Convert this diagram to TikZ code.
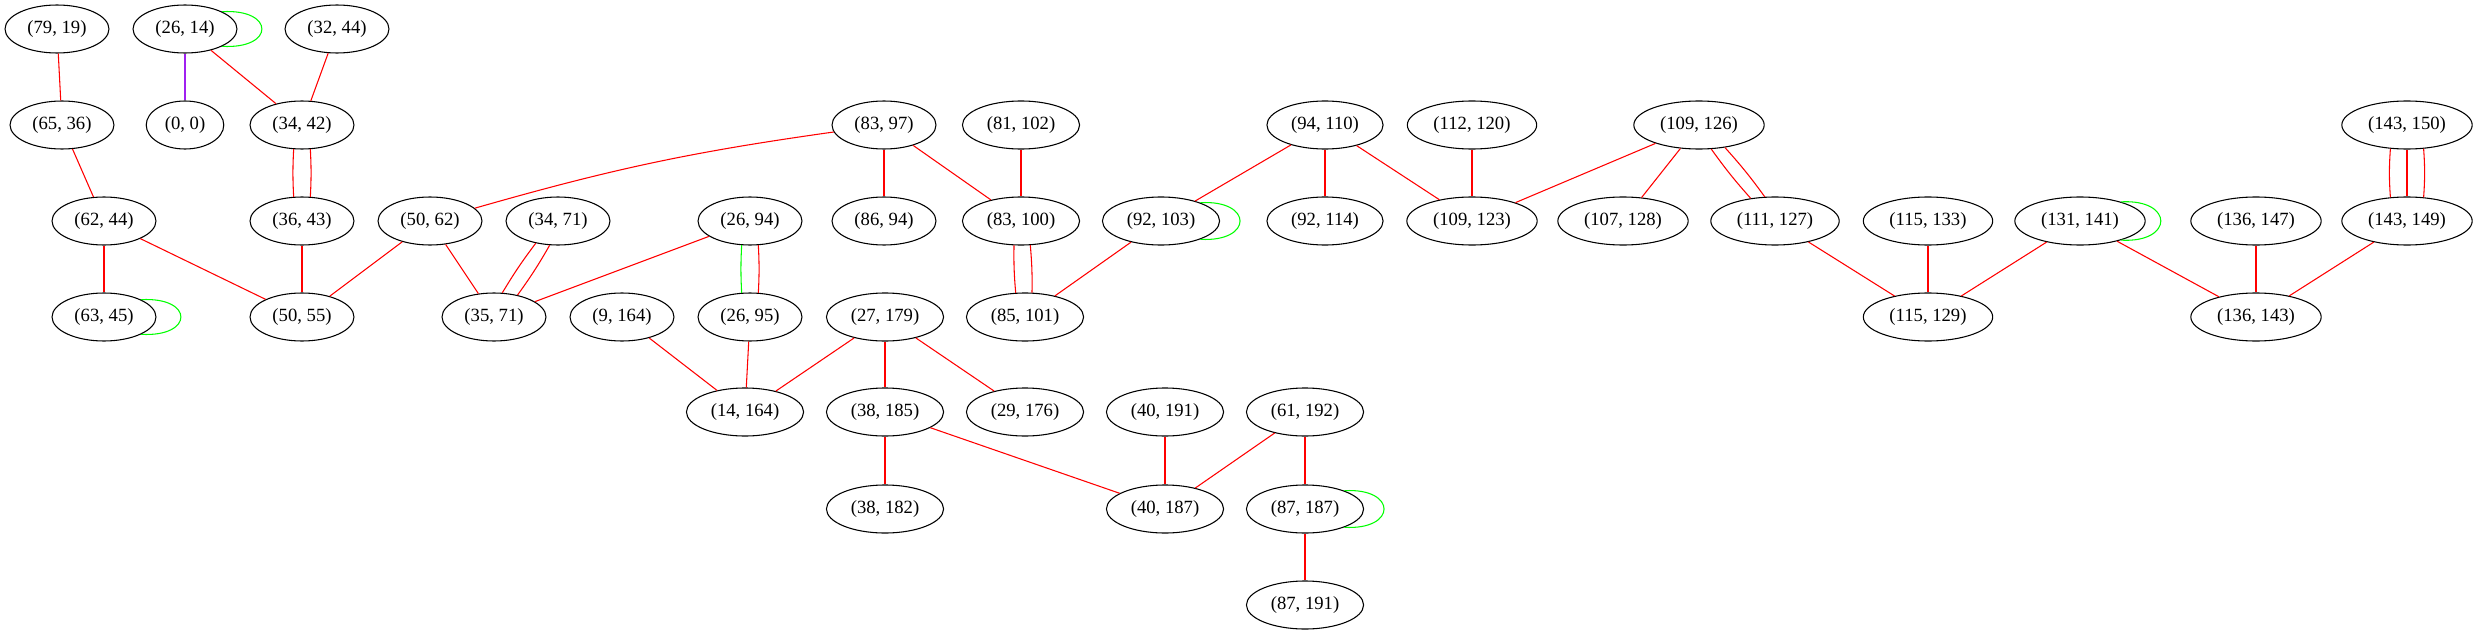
\documentclass[tikz,border=0pt]{standalone}
\usepackage{xcolor}
\usepackage{fontspec}
\setmainfont{Liberation Serif}
\usepackage{tikz}
\usetikzlibrary{shapes.geometric, positioning}
\definecolor{gvpurple}{HTML}{A020F0}

\begin{document}
\begin{tikzpicture}[
        x=0.75pt, y=0.75pt,
        pair/.style={ellipse, draw=black, line width=0.8pt, inner xsep=5.4pt, inner ysep=3pt, minimum height=36pt, font=\fontsize{14}{16}\selectfont},
        redge/.style={draw=red, line width=0.8pt},
        gedge/.style={draw=green, line width=0.8pt},
        pedge/.style={draw=gvpurple, line width=0.8pt}
    ]
    \useasboundingbox (0,0) rectangle (2477,-635);

    % Row 1
    \node[pair] (n7919) at (57,-29) {(79, 19)};
    \node[pair] (n2614) at (185,-29) {(26, 14)};
    \node[pair] (n3244) at (337,-29) {(32, 44)};

    % Row 2
    \node[pair] (n6536) at (62,-125) {(65, 36)};
    \node[pair] (n00) at (185,-125) {(0, 0)};
    \node[pair] (n3442) at (302,-125) {(34, 42)};
    \node[pair] (n8397) at (884,-125) {(83, 97)};
    \node[pair] (n81102) at (1021,-125) {(81, 102)};
    \node[pair] (n94110) at (1325,-125) {(94, 110)};
    \node[pair] (n112120) at (1472,-125) {(112, 120)};
    \node[pair] (n109126) at (1699,-125) {(109, 126)};
    \node[pair] (n143150) at (2407,-125) {(143, 150)};

    % Row 3
    \node[pair] (n6244) at (104,-221) {(62, 44)};
    \node[pair] (n3643) at (302,-221) {(36, 43)};
    \node[pair] (n5062) at (430,-221) {(50, 62)};
    \node[pair] (n3471) at (558,-221) {(34, 71)};
    \node[pair] (n2694) at (750,-221) {(26, 94)};
    \node[pair] (n8694) at (884,-221) {(86, 94)};
    \node[pair] (n83100) at (1021,-221) {(83, 100)};
    \node[pair] (n92103) at (1161,-221) {(92, 103)};
    \node[pair] (n92114) at (1325,-221) {(92, 114)};
    \node[pair] (n109123) at (1472,-221) {(109, 123)};
    \node[pair] (n107128) at (1623,-221) {(107, 128)};
    \node[pair] (n111127) at (1775,-221) {(111, 127)};
    \node[pair] (n115133) at (1928,-221) {(115, 133)};
    \node[pair] (n131141) at (2080,-221) {(131, 141)};
    \node[pair] (n136147) at (2256,-221) {(136, 147)};
    \node[pair] (n143149) at (2407,-221) {(143, 149)};

    % Row 4
    \node[pair] (n6345) at (104,-317) {(63, 45)};
    \node[pair] (n5055) at (302,-317) {(50, 55)};
    \node[pair] (n3571) at (494,-317) {(35, 71)};
    \node[pair] (n9164) at (622,-317) {(9, 164)};
    \node[pair] (n2695) at (750,-317) {(26, 95)};
    \node[pair] (n27179) at (885,-317) {(27, 179)};
    \node[pair] (n85101) at (1025,-317) {(85, 101)};
    \node[pair] (n115129) at (1928,-317) {(115, 129)};
    \node[pair] (n136143) at (2256,-317) {(136, 143)};

    % Row 5
    \node[pair] (n14164) at (745,-412) {(14, 164)};
    \node[pair] (n38185) at (885,-412) {(38, 185)};
    \node[pair] (n29176) at (1025,-412) {(29, 176)};
    \node[pair] (n40191) at (1165,-412) {(40, 191)};
    \node[pair] (n61192) at (1305,-412) {(61, 192)};

    % Rows 6 and 7
    \node[pair] (n38182) at (885,-509) {(38, 182)};
    \node[pair] (n40187) at (1165,-509) {(40, 187)};
    \node[pair] (n87187) at (1305,-509) {(87, 187)};
    \node[pair] (n87191) at (1305,-605) {(87, 191)};

    % Edges
    \draw[redge] (n7919) -- (n6536);
    \draw[pedge] (n2614) -- (n00);
    \draw[redge] (n2614) -- (n3442);
    \draw[redge] (n3244) -- (n3442);
    \draw[redge] (n6536) -- (n6244);
    \draw[redge] (n6244) -- (n6345);
    \draw[redge] (n6244) -- (n5055);
    \draw[redge] (n3643) -- (n5055);
    \draw[redge] (n5062) -- (n5055);
    \draw[redge] (n5062) -- (n3571);
    \draw[redge] (n5062) to[bend left=4] (n8397);
    \draw[redge] (n2694) -- (n3571);
    \draw[redge] (n8397) -- (n8694);
    \draw[redge] (n8397) -- (n83100);
    \draw[redge] (n81102) -- (n83100);
    \draw[redge] (n92103) -- (n85101);
    \draw[redge] (n94110) -- (n92103);
    \draw[redge] (n94110) -- (n92114);
    \draw[redge] (n94110) -- (n109123);
    \draw[redge] (n112120) -- (n109123);
    \draw[redge] (n109126) -- (n109123);
    \draw[redge] (n109126) -- (n107128);
    \draw[redge] (n111127) -- (n115129);
    \draw[redge] (n115133) -- (n115129);
    \draw[redge] (n131141) -- (n115129);
    \draw[redge] (n131141) -- (n136143);
    \draw[redge] (n136147) -- (n136143);
    \draw[redge] (n143149) -- (n136143);
    \draw[redge] (n9164) -- (n14164);
    \draw[redge] (n2695) -- (n14164);
    \draw[redge] (n27179) -- (n14164);
    \draw[redge] (n27179) -- (n38185);
    \draw[redge] (n27179) -- (n29176);
    \draw[redge] (n38185) -- (n38182);
    \draw[redge] (n38185) -- (n40187);
    \draw[redge] (n40191) -- (n40187);
    \draw[redge] (n61192) -- (n40187);
    \draw[redge] (n61192) -- (n87187);
    \draw[redge] (n87187) -- (n87191);

    % Multiple edges
    \draw[redge] (n3442.251) to[bend right=3] (n3643.109);
    \draw[redge] (n3442.289) to[bend left=3] (n3643.71);
    \draw[redge] (n3471.225) to[bend right=3] (n3571.71);
    \draw[redge] (n3471.251) to[bend left=3] (n3571.43);
    \draw[gedge] (n2694.251) to[bend right=3] (n2695.109);
    \draw[redge] (n2694.289) to[bend left=3] (n2695.71);
    \draw[redge] (n83100.254) to[bend right=3] (n85101.111);
    \draw[redge] (n83100.291) to[bend left=3] (n85101.74);
    \draw[redge] (n109126.297) to[bend right=3] (n111127.137);
    \draw[redge] (n109126.319) to[bend left=3] (n111127.113);
    \draw[redge] (n143150.235) to[bend right=4] (n143149.125);
    \draw[redge] (n143150) -- (n143149);
    \draw[redge] (n143150.305) to[bend left=4] (n143149.55);

    % Self loops
    \draw[gedge] (n2614.25) .. controls +(53,3) and +(53,-3) .. (n2614.-25);
    \draw[gedge] (n6345.25) .. controls +(53,3) and +(53,-3) .. (n6345.-25);
    \draw[gedge] (n92103.25) .. controls +(53,3) and +(53,-3) .. (n92103.-25);
    \draw[gedge] (n131141.25) .. controls +(53,3) and +(53,-3) .. (n131141.-25);
    \draw[gedge] (n87187.25) .. controls +(53,3) and +(53,-3) .. (n87187.-25);

    \end{tikzpicture}
\end{document}
